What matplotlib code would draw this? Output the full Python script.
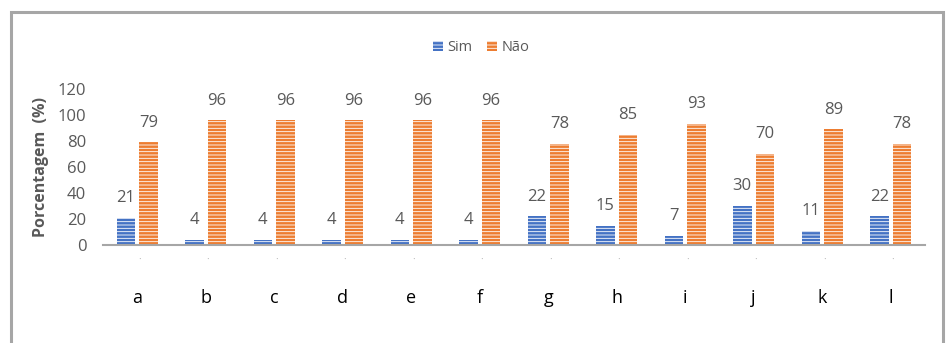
import numpy as np
import matplotlib.pyplot as plt
from matplotlib.patches import Rectangle

plt.rcParams['font.family'] = ['Open Sans', 'DejaVu Sans']
plt.rcParams['hatch.linewidth'] = 0.6

categories = ['a', 'b', 'c', 'd', 'e', 'f', 'g', 'h', 'i', 'j', 'k', 'l']
sim = [21, 4, 4, 4, 4, 4, 22, 15, 7, 30, 11, 22]
nao = [79, 96, 96, 96, 96, 96, 78, 85, 93, 70, 89, 78]

blue = '#4472C4'
orange = '#ED7D31'
grey = '#595959'

fig = plt.figure(figsize=(9.49, 3.43), dpi=100)
ax = fig.add_axes([0.1085, 0.2857, 0.866, 0.4548])

# outer chart frame
fig.patches.append(Rectangle((0.012, -0.05), 0.982, 1.015, transform=fig.transFigure,
                             fill=False, edgecolor='#a6a6a6', linewidth=2.2))

x = np.arange(len(categories))
w = 0.27
b1 = ax.bar(x - w / 2 - 0.03, sim, w, color=blue, hatch='-----',
            edgecolor='white', linewidth=0, label='Sim')
b2 = ax.bar(x + w / 2 + 0.03, nao, w, color=orange, hatch='-----',
            edgecolor='white', linewidth=0, label='Não')

for bars, vals in ((b1, sim), (b2, nao)):
    for r, v in zip(bars, vals):
        ax.text(r.get_x() + r.get_width() / 2, v + 9, str(v), ha='center',
                va='bottom', fontsize=12, color=grey)

ax.set_xlim(-0.5, len(categories) - 0.5)
ax.set_ylim(0, 120)
ax.set_yticks(range(0, 121, 20))
ax.tick_params(axis='y', length=0, labelsize=12, labelcolor=grey, pad=12)
ax.set_xticks(x)
ax.set_xticklabels(categories, fontsize=13, color='black')
ax.tick_params(axis='x', length=0, pad=32)

# faint dots under each category
for xi in x:
    ax.text(xi + 0.03, -12, '·', ha='center', va='center', fontsize=7,
            color='#b0b0b0', clip_on=False)

for s in ('top', 'right', 'left'):
    ax.spines[s].set_visible(False)
ax.spines['bottom'].set_color('#a6a6a6')
ax.spines['bottom'].set_linewidth(1.5)

ax.set_ylabel('Porcentagem  (%)', fontsize=11.5, color=grey, fontweight='bold', labelpad=6)

fig.legend(handles=[b1, b2], labels=['Sim', 'Não'], loc='center',
           bbox_to_anchor=(0.507, 0.862), ncol=2, frameon=False, fontsize=10.5,
           handlelength=0.7, handleheight=0.7, handletextpad=0.3, columnspacing=1.0,
           labelcolor=grey)

fig.savefig('out.png', dpi=100)
